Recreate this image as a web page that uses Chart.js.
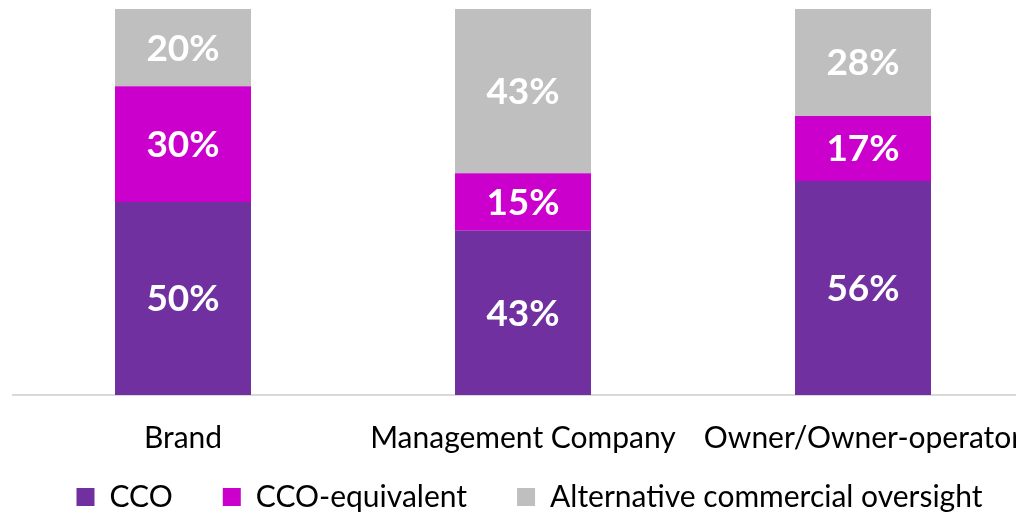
<!DOCTYPE html>
<html>
<head>
<meta charset="utf-8">
<script src="https://cdn.jsdelivr.net/npm/chart.js@4/dist/chart.umd.min.js"></script>
<style>
  html, body { margin: 0; padding: 0; background: #fff; overflow: hidden; }
  #wrap { width: 1073px; height: 522px; position: relative; }
</style>
</head>
<body>
<div id="wrap"><canvas id="oversight-chart"></canvas></div>
<script>
const categories = ['Brand', 'Management Company', 'Owner/Owner-operator'];
const seriesNames = ['CCO', 'CCO-equivalent', 'Alternative commercial oversight'];
const cco = [50, 43, 56];
const ccoEquivalent = [30, 15, 17];
const alternative = [20, 43, 28];

// Excel-style 100% stacked: each bar is scaled to its own total
const totals = categories.map((c, i) => cco[i] + ccoEquivalent[i] + alternative[i]);
const toShare = arr => arr.map((v, i) => v / totals[i] * 100);

const FONT = 'Lato, "Open Sans", sans-serif';

// white % labels in the middle of each segment
const segmentLabels = {
  id: 'segmentLabels',
  afterDatasetsDraw(chart) {
    const ctx = chart.ctx;
    ctx.save();
    ctx.fillStyle = '#ffffff';
    ctx.font = 'bold 37px ' + FONT;
    ctx.textAlign = 'center';
    ctx.textBaseline = 'middle';
    chart.data.datasets.forEach((ds, di) => {
      chart.getDatasetMeta(di).data.forEach((bar, i) => {
        const mid = (bar.y + bar.base) / 2;
        ctx.fillText(ds.raw[i] + '%', bar.x, mid + 1);
      });
    });
    ctx.restore();
  }
};

new Chart(document.getElementById('oversight-chart'), {
  type: 'bar',
  data: {
    labels: categories,
    datasets: [
      { label: seriesNames[0], raw: cco, data: toShare(cco), backgroundColor: '#7030A0' },
      { label: seriesNames[1], raw: ccoEquivalent, data: toShare(ccoEquivalent), backgroundColor: '#CC00CC' },
      { label: seriesNames[2], raw: alternative, data: toShare(alternative), backgroundColor: '#BFBFBF' }
    ]
  },
  options: {
    responsive: true,
    maintainAspectRatio: false,
    animation: false,
    layout: { padding: { left: 13, right: 27, top: 9, bottom: 0 } },
    datasets: {
      bar: { barPercentage: 0.4, categoryPercentage: 1.0, borderWidth: 0 }
    },
    plugins: {
      legend: {
        position: 'bottom',
        labels: {
          font: { family: FONT, size: 30 },
          color: '#000',
          boxWidth: 18,
          boxHeight: 18,
          padding: 27,
          // extra gap between legend entries (spaces after the text)
          generateLabels(chart) {
            const items = Chart.defaults.plugins.legend.labels.generateLabels(chart);
            items.forEach((it, i) => { if (i < items.length - 1) it.text += '   '; });
            return items;
          }
        }
      },
      tooltip: { enabled: false }
    },
    scales: {
      x: {
        stacked: true,
        grid: { display: false },
        border: { color: '#d9d9d9', width: 2 },
        ticks: {
          font: { family: FONT, size: 30 },
          color: '#000',
          padding: 17,
          maxRotation: 0,
          autoSkip: false
        },
        afterFit(scale) { scale.height -= 18; }
      },
      y: {
        stacked: true,
        position: 'right',
        min: 0,
        max: 100,
        grid: { display: false },
        border: { display: false },
        ticks: { display: false },
        afterFit(scale) { scale.width = 13; }
      }
    }
  },
  plugins: [segmentLabels]
});
</script>
</body>
</html>
